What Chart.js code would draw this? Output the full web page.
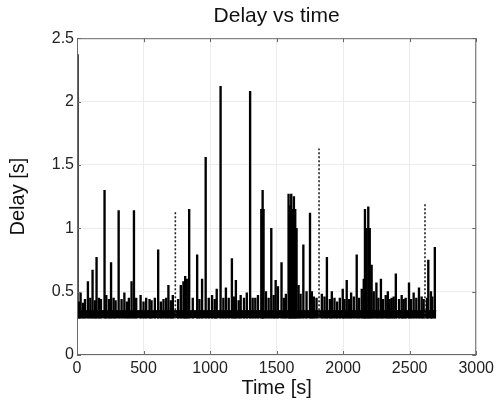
<!DOCTYPE html>
<html><head><meta charset="utf-8">
<script src="https://cdn.jsdelivr.net/npm/chart.js@4/dist/chart.umd.min.js"></script>
<style>html,body{margin:0;padding:0;background:#fff}#wrap{width:498px;height:403px}</style>
</head><body><div id="wrap"><canvas id="c" width="498" height="403"></canvas></div>
<script>
const chartTitle = 'Delay vs time';
const xLabel = 'Time [s]';
const yLabel = 'Delay [s]';
const xTicks = [0, 500, 1000, 1500, 2000, 2500, 3000];
const yTicks = [0, 0.5, 1, 1.5, 2, 2.5];

// dense baseline band of delays
const bandTime = [0, 2700];
const bandTop = [0.35, 0.35];
const bandBottom = 0.29;

// individual delay spikes (time, peak)
const spikeTime = [4, 15, 27, 45, 60, 82, 100, 117, 135, 147, 165, 180, 207, 220, 240, 256, 275, 290, 313, 335, 356, 375, 390, 410, 428, 445, 478, 500, 520, 545, 560, 585, 610, 630, 650, 670, 687, 705, 720, 760, 780, 800, 813, 825, 843, 870, 903, 920, 940, 967, 990, 1015, 1035, 1050, 1079, 1100, 1119, 1140, 1164, 1180, 1194, 1215, 1230, 1255, 1276, 1301, 1320, 1340, 1360, 1385, 1395, 1402, 1420, 1440, 1460, 1478, 1493, 1510, 1537, 1555, 1570, 1590, 1600, 1610, 1620, 1630, 1640, 1650, 1665, 1680, 1701, 1725, 1751, 1765, 1780, 1800, 1840, 1860, 1878, 1900, 1915, 1935, 1955, 1975, 1997, 2010, 2027, 2045, 2060, 2080, 2102, 2120, 2140, 2155, 2164, 2175, 2189, 2200, 2214, 2230, 2250, 2265, 2284, 2300, 2320, 2336, 2350, 2365, 2380, 2396, 2420, 2440, 2455, 2470, 2495, 2510, 2530, 2550, 2570, 2590, 2605, 2630, 2640, 2660, 2670, 2689];
const spikePeak = [2.37, 0.42, 0.49, 0.41, 0.44, 0.58, 0.45, 0.67, 0.43, 0.77, 0.45, 0.44, 1.30, 0.47, 0.44, 0.73, 0.45, 0.43, 1.14, 0.44, 0.49, 0.42, 0.45, 0.58, 1.14, 0.45, 0.47, 0.42, 0.45, 0.44, 0.43, 0.45, 0.83, 0.42, 0.44, 0.45, 0.55, 0.43, 0.47, 0.44, 0.55, 0.58, 0.62, 0.60, 1.15, 0.45, 0.79, 0.44, 0.60, 1.56, 0.45, 0.47, 0.44, 0.52, 2.12, 0.45, 0.53, 0.45, 0.76, 0.46, 0.59, 0.43, 0.47, 0.45, 0.49, 2.08, 0.45, 0.45, 0.47, 1.15, 1.30, 1.15, 0.50, 0.45, 1.00, 0.47, 0.59, 0.54, 0.73, 0.45, 0.48, 1.27, 1.18, 1.27, 1.15, 1.25, 1.15, 1.00, 0.55, 0.48, 0.87, 0.50, 1.12, 0.50, 0.46, 0.45, 0.48, 0.46, 0.77, 0.44, 0.50, 0.45, 0.42, 0.45, 0.52, 0.44, 0.59, 0.44, 0.49, 0.46, 0.79, 0.45, 0.52, 0.60, 1.15, 1.00, 1.17, 1.00, 0.71, 0.50, 0.57, 0.45, 0.60, 0.44, 0.47, 0.50, 0.44, 0.45, 0.46, 0.64, 0.44, 0.47, 0.44, 0.45, 0.57, 0.44, 0.49, 0.45, 0.53, 0.46, 0.44, 0.45, 0.75, 0.50, 0.46, 0.85];

// faint dotted spikes
const dottedTime = [739, 1819, 2615];
const dottedPeak = [1.13, 1.63, 1.20];

const FONT = 'Liberation Sans, Arial, sans-serif';

const frame = {
  id: 'frame',
  afterDatasetsDraw(chart) {
    const {ctx, chartArea: a, scales: {x, y}} = chart;
    ctx.save();
    ctx.strokeStyle = '#6a6a6a';
    ctx.lineWidth = 1;
    ctx.strokeRect(a.left + 0.5, a.top + 0.5, a.right - a.left - 1, a.bottom - a.top - 1);
    ctx.beginPath();
    const L = 4;
    xTicks.forEach(v => {
      const px = Math.round(x.getPixelForValue(v)) + 0.5;
      ctx.moveTo(px, a.bottom); ctx.lineTo(px, a.bottom - L);
      ctx.moveTo(px, a.top); ctx.lineTo(px, a.top + L);
    });
    yTicks.forEach(v => {
      const py = Math.round(y.getPixelForValue(v)) + 0.5;
      ctx.moveTo(a.left, py); ctx.lineTo(a.left + L, py);
      ctx.moveTo(a.right, py); ctx.lineTo(a.right - L, py);
    });
    ctx.stroke();
    ctx.restore();
  }
};

const dottedData = [];
dottedTime.forEach((t, i) => {
  dottedData.push({x: t, y: bandBottom}, {x: t, y: dottedPeak[i]}, {x: t, y: NaN});
});

new Chart(document.getElementById('c'), {
  type: 'bar',
  data: {
    datasets: [
      {
        type: 'line',
        data: bandTime.map((t, i) => ({x: t, y: bandTop[i]})),
        fill: {value: bandBottom},
        backgroundColor: '#000',
        borderColor: '#000',
        borderWidth: 1,
        pointRadius: 0,
        order: 2
      },
      {
        type: 'bar',
        data: spikeTime.map((t, i) => ({x: t, y: [bandBottom, spikePeak[i]]})),
        backgroundColor: '#000',
        barThickness: 1.7,
        grouped: false,
        order: 1
      },
      {
        type: 'line',
        data: dottedData,
        borderColor: '#222',
        borderWidth: 1.6,
        borderDash: [2, 2],
        pointRadius: 0,
        spanGaps: false,
        fill: false,
        order: 0
      }
    ]
  },
  options: {
    responsive: false,
    animation: false,
    devicePixelRatio: 1,
    layout: {padding: {left: 0, right: 19, top: 0, bottom: 0}},
    plugins: {
      legend: {display: false},
      tooltip: {enabled: false},
      title: {
        display: true,
        fullSize: false,
        text: chartTitle,
        color: '#111',
        font: {family: FONT, size: 21, weight: 'normal'},
        padding: {top: 4, bottom: 9}
      }
    },
    scales: {
      x: {
        type: 'linear',
        min: 0, max: 3000,
        offset: false,
        afterFit: s => { s.height = 48; },
        afterBuildTicks: s => { s.ticks = xTicks.map(v => ({value: v})); },
        grid: {color: '#ececec', drawTicks: false, offset: false},
        border: {display: false},
        ticks: {
          padding: 4,
          color: '#222',
          font: {family: FONT, size: 16},
          callback: v => String(v),
          maxRotation: 0
        },
        title: {
          display: true, text: xLabel, color: '#111',
          font: {family: FONT, size: 20},
          padding: {top: 3, bottom: 3}
        }
      },
      y: {
        min: 0, max: 2.5,
        afterFit: s => { s.width = 77; },
        afterBuildTicks: s => { s.ticks = yTicks.map(v => ({value: v})); },
        grid: {color: '#ececec', drawTicks: false},
        border: {display: false},
        ticks: {
          padding: 3,
          color: '#222',
          font: {family: FONT, size: 16},
          callback: v => String(v)
        },
        title: {
          display: true, text: yLabel, color: '#111',
          font: {family: FONT, size: 20},
          padding: {top: 6, bottom: 6}
        }
      }
    }
  },
  plugins: [frame]
});
</script>
</body></html>
